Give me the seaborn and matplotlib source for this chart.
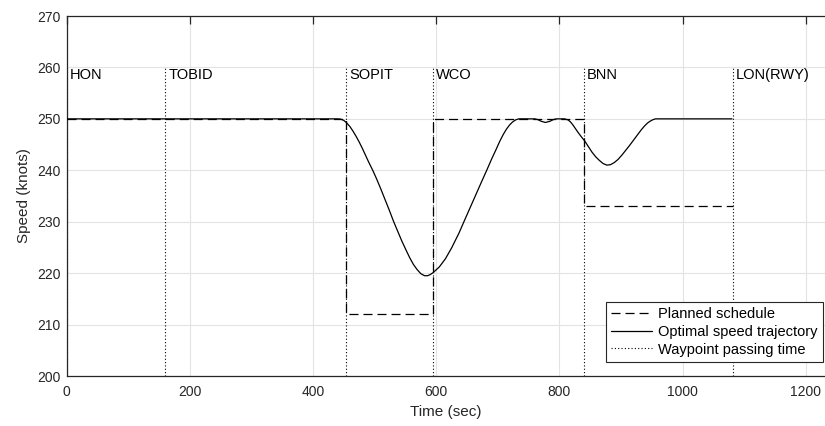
import numpy as np
import pandas as pd
import matplotlib
matplotlib.use("Agg")
import matplotlib.pyplot as plt
import seaborn as sns

# ---------------- data ----------------
waypoint_names = ["HON", "TOBID", "SOPIT", "WCO", "BNN", "LON(RWY)"]
waypoint_times = [0, 160, 454, 595, 840, 1082]
# planned speed on each leg between consecutive waypoints
planned_leg_start = [0, 454, 595, 840]
planned_leg_end = [454, 595, 840, 1082]
planned_leg_speed = [250, 212, 250, 233]

traj_time = [0, 440, 445, 450, 454, 460, 465, 470, 475, 480, 485, 490, 497, 503,
             510, 517, 524, 531, 537, 544, 551, 557, 563, 569, 575, 581, 586, 590,
             595, 605, 615, 625, 637, 645, 652, 659, 666, 673, 682, 690, 697, 703,
             709, 714, 719, 724, 729, 734, 760, 765, 770, 777, 784, 790, 795, 808,
             814, 818, 822, 826, 830, 835, 841, 847, 853, 859, 865, 871, 877, 883,
             889, 895, 901, 907, 913, 918, 923, 928, 933, 938, 943, 948, 952, 956,
             1080]
traj_speed = [250.0, 250.0, 249.95, 249.7, 249.3, 248.5, 247.6, 246.6, 245.5, 244.3,
              243.0, 241.7, 240.0, 238.4, 236.4, 234.3, 232.2, 230.0, 228.3, 226.3,
              224.5, 223.0, 221.7, 220.7, 219.9, 219.5, 219.5, 219.7, 220.1, 221.2,
              222.8, 224.9, 227.8, 230.0, 231.9, 233.8, 235.7, 237.6, 240.0, 242.2,
              244.0, 245.6, 247.0, 248.0, 248.8, 249.4, 249.8, 250.0, 250.0, 249.85,
              249.55, 249.3, 249.5, 249.85, 250.0, 250.0, 249.8, 249.4, 248.8, 248.1,
              247.4, 246.6, 245.7, 244.6, 243.5, 242.6, 241.9, 241.3, 241.0, 241.1,
              241.5, 242.1, 242.9, 243.8, 244.7, 245.5, 246.3, 247.1, 247.9, 248.6,
              249.2, 249.6, 249.85, 250.0, 250.0]

x_ticks = [0, 200, 400, 600, 800, 1000, 1200]
y_ticks = [200, 210, 220, 230, 240, 250, 260, 270]

# ---------------- style ----------------
sns.set_theme(style="whitegrid")
plt.rcParams["font.family"] = ["Liberation Sans", "DejaVu Sans"]
plt.rcParams["lines.scale_dashes"] = False
dark = "#262626"

fig = plt.figure(figsize=(8.25, 4.26), dpi=100)
ax = fig.add_axes([66.5 / 825, 1 - 376 / 426, (825 - 66.5) / 825, (376 - 16) / 426])
ax.set_facecolor("white")

# planned schedule as a step line built from the leg arrays
px, py = [], []
for s, e, v in zip(planned_leg_start, planned_leg_end, planned_leg_speed):
    px += [s, e]
    py += [v, v]
plan_df = pd.DataFrame({"t": px, "v": py})
traj_df = pd.DataFrame({"t": traj_time, "v": traj_speed})

sns.lineplot(data=plan_df, x="t", y="v", ax=ax, sort=False, estimator=None,
             color="black", lw=0.9, linestyle=(0, (6.5, 3.6)),
             label="Planned schedule", zorder=3)
sns.lineplot(data=traj_df, x="t", y="v", ax=ax, sort=False, estimator=None,
             color="black", lw=0.9, label="Optimal speed trajectory", zorder=4)
ax.vlines(waypoint_times, 200, 260, colors="black", lw=0.8,
          linestyles=[(0, (0.8, 1.6))], label="Waypoint passing time", zorder=2)

for name, t in zip(waypoint_names, waypoint_times):
    ax.annotate(name, xy=(t, 260), xytext=(2.2, -8.6), textcoords="offset points",
                ha="left", va="baseline", fontsize=10.5, color="black")

ax.set_xlim(0, 1231)
ax.set_ylim(200, 270)
ax.set_xticks(x_ticks)
ax.set_yticks(y_ticks)
ax.grid(True, color="#e3e3e3", lw=0.8, zorder=0)
ax.set_axisbelow(True)

for side in ["left", "bottom", "top"]:
    ax.spines[side].set_visible(True)
    ax.spines[side].set_color(dark)
    ax.spines[side].set_linewidth(0.9)
ax.spines["right"].set_visible(False)

ax.tick_params(axis="both", direction="in", length=5.5, width=0.9, color=dark,
               labelcolor=dark, labelsize=10)
ax.tick_params(axis="x", top=True, pad=6.5)
ax.tick_params(axis="y", pad=4.5)

ax.set_xlabel("Time (sec)", fontsize=11, color=dark, labelpad=4)
ax.set_ylabel("Speed (knots)", fontsize=11, color=dark, labelpad=4)

h, l = ax.get_legend_handles_labels()
leg = ax.legend(h, l, loc="lower right", bbox_to_anchor=(822.7 / 825, 1 - 361.7 / 426),
                bbox_transform=fig.transFigure, borderaxespad=0, fontsize=10.5,
                frameon=True, fancybox=False, framealpha=1, edgecolor=dark,
                handlelength=2.8, handletextpad=0.45, labelspacing=0.25,
                borderpad=0.35)
leg.get_frame().set_linewidth(0.8)
for t in leg.get_texts():
    t.set_color("black")

fig.savefig("out.png", dpi=100)
